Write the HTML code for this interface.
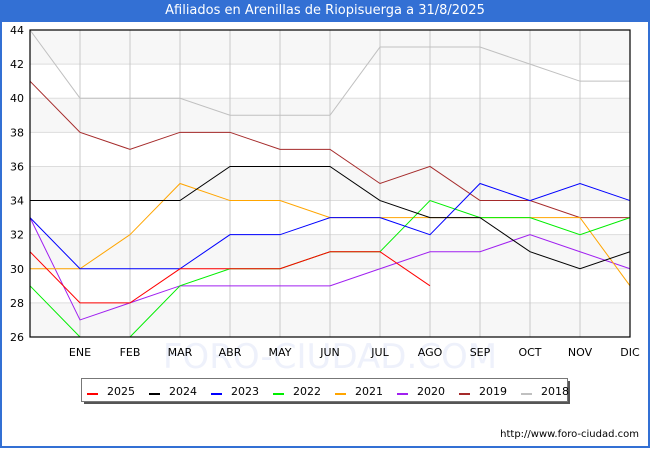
<!DOCTYPE html>
<html><head><meta charset="utf-8">
<style>
body{margin:0;width:650px;height:450px;overflow:hidden;background:#fff;font-family:"DejaVu Sans","Liberation Sans",sans-serif;}
#wrap{position:absolute;left:0;top:0;width:646px;height:446px;border:2px solid #3370d4;border-top:none;}
#hdr{position:absolute;left:0;top:0;width:650px;height:22px;background:#3370d4;color:#fff;font-size:13px;text-align:center;line-height:22px;}
</style></head><body>
<div id="wrap"></div>
<div id="hdr">Afiliados en Arenillas de Riopisuerga a 31/8/2025</div>
<svg id="svg" width="650" height="450" style="position:absolute;left:0;top:0"></svg>
<script>
const months=["","ENE","FEB","MAR","ABR","MAY","JUN","JUL","AGO","SEP","OCT","NOV","DIC"];
const yTicks=[26,28,30,32,34,36,38,40,42,44];
const seriesNames=["2025","2024","2023","2022","2021","2020","2019","2018"];
const seriesColors=["#ff0000","#000000","#0000ff","#00ee00","#ffa500","#a020f0","#a52a2a","#c0c0c0"];
const s2025=[31,28,28,30,30,30,31,31,29];
const s2024=[34,34,34,34,36,36,36,34,33,33,31,30,31];
const s2023=[33,30,30,30,32,32,33,33,32,35,34,35,34];
const s2022=[29,26,26,29,30,30,31,31,34,33,33,32,33];
const s2021=[30,30,32,35,34,34,33,33,33,33,33,33,29];
const s2020=[33,27,28,29,29,29,29,30,31,31,32,31,30];
const s2019=[41,38,37,38,38,37,37,35,36,34,34,33,33];
const s2018=[44,40,40,40,39,39,39,43,43,43,42,41,41];
const allSeries=[s2025,s2024,s2023,s2022,s2021,s2020,s2019,s2018];

const NS="http://www.w3.org/2000/svg";
const svg=document.getElementById('svg');
const X0=30,X1=630,Y0=337,Y1=30,YMIN=26,YMAX=44;
const xs=i=>X0+i*(X1-X0)/12;
const ys=v=>Y0-(v-YMIN)*(Y0-Y1)/(YMAX-YMIN);
function mk(t,a){const e=document.createElementNS(NS,t);for(const k in a)e.setAttribute(k,a[k]);svg.appendChild(e);return e;}

const wm=mk('text',{x:330,y:368,'text-anchor':'middle','font-size':34,fill:'#eef1fb'});
wm.textContent='FORO-CIUDAD.COM';



for(let i=0;i<yTicks.length-1;i++){
  if(i%2===0){const r=mk('rect',{x:X0,y:ys(yTicks[i+1]),width:X1-X0,height:ys(yTicks[i])-ys(yTicks[i+1]),fill:'#f7f7f7'});
  
  }
}
yTicks.forEach(v=>{
  const l=mk('line',{x1:X0,x2:X1,y1:ys(v),y2:ys(v),stroke:'#dddddd','stroke-width':1});
  
  
  const t=mk('text',{x:X0-6,y:ys(v)+4,'text-anchor':'end','font-size':11,fill:'#000'});
  t.textContent=v;
  
  
});
months.forEach((m,i)=>{
  if(i>0){const l=mk('line',{x1:xs(i),x2:xs(i),y1:Y1,y2:Y0,stroke:'#c8c8c8','stroke-width':1});
  
  }
  const t=mk('text',{x:xs(i),y:356,'text-anchor':'middle','font-size':11,fill:'#000'});
  t.textContent=m;
  
  
});

for(let s=allSeries.length-1;s>=0;s--){
  const pts=allSeries[s].map((v,i)=>xs(i)+','+ys(v)).join(' ');
  const p=mk('polyline',{points:pts,fill:'none',stroke:seriesColors[s],'stroke-width':1});
  
  
}
const fr=mk('rect',{x:X0,y:Y1,width:X1-X0,height:Y0-Y1,fill:'none',stroke:'#000','stroke-width':1.2});



const sh=mk('rect',{x:84,y:381,width:486,height:23,fill:'#555'});


const lb=mk('rect',{x:81.5,y:378.5,width:486,height:23,fill:'#fff',stroke:'#777'});


seriesNames.forEach((n,i)=>{
  const x=87+i*62;
  const sw=mk('line',{x1:x,x2:x+11,y1:394,y2:394,stroke:seriesColors[i],'stroke-width':2});
  
  
  const t=mk('text',{x:x+20,y:395,'font-size':11,fill:'#000'});
  t.textContent=n;
  
  
});
const u=mk('text',{x:639,y:437,'text-anchor':'end','font-size':10,fill:'#000'});
u.textContent='http://www.foro-ciudad.com';


</script>
</body></html>
